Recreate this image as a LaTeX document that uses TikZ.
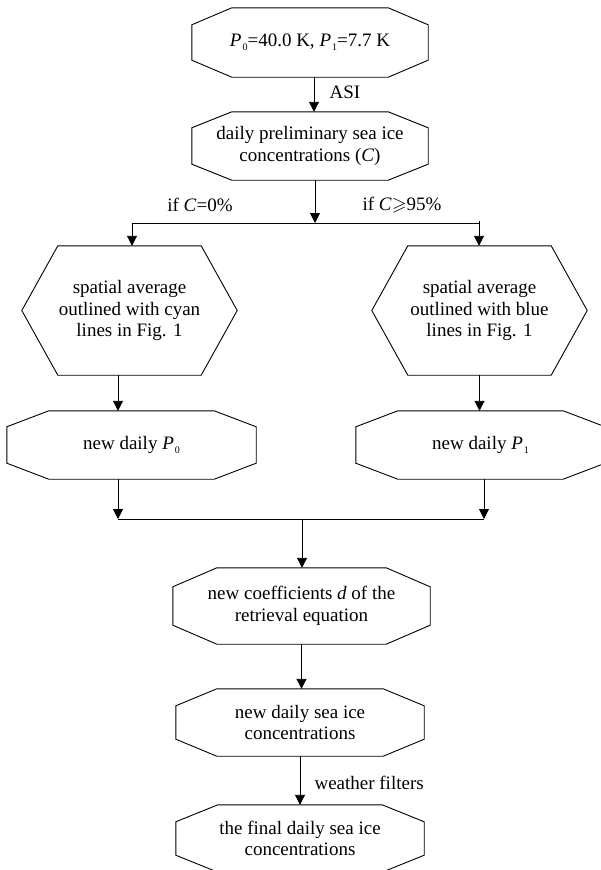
\documentclass[tikz,border=0pt]{standalone}
\usepackage{fontspec}
\setmainfont{Liberation Serif}
\usepackage{amssymb}
\usetikzlibrary{arrows.meta}
\newcommand{\Psub}[1]{\textit{P}\kern1pt\raisebox{-4pt}{\fontsize{10}{10}\selectfont #1}}

\begin{document}
\begin{tikzpicture}[x=1pt,y=-1pt,
  font=\fontsize{19}{21.5}\selectfont,
  box/.style={draw=none,inner sep=0pt,align=center},
  outline/.style={line width=0.9pt},
  line/.style={line width=0.9pt},
  arr/.style={line width=0.9pt,-{Triangle[length=10pt,width=10pt]}}]
\useasboundingbox (0,0) rectangle (600,870);
% boxes
\node[box,minimum width=236pt,minimum height=69pt] (init) at (310,42.5) {\Psub{0}=40.0 K, \Psub{1}=7.7 K};
\node[box,minimum width=236pt,minimum height=68pt] (prelim) at (310,146) {daily preliminary sea ice\\concentrations (\textit{C})};
\node[box,minimum width=215pt,minimum height=129pt] (cyanavg) at (129.5,310.5) {spatial average\\outlined with cyan\\lines in Fig. 1};
\node[box,minimum width=215pt,minimum height=129pt] (blueavg) at (479.5,310.5) {spatial average\\outlined with blue\\lines in Fig. 1};
\node[box,minimum width=249pt,minimum height=68pt] (newPzero) at (131.5,445) {new daily \Psub{0}};
\node[box,minimum width=249pt,minimum height=68pt] (newPone) at (480.5,445) {new daily \Psub{1}};
\node[box,minimum width=257pt,minimum height=76pt] (coeff) at (301.5,606) {new coefficients \textit{d} of the\\retrieval equation};
\node[box,minimum width=248pt,minimum height=67pt] (newsic) at (300,722.5) {new daily sea ice\\concentrations};
\node[box,minimum width=248pt,minimum height=67pt] (final) at (300,838.5) {the final daily sea ice\\concentrations};
% outlines
\foreach \n/\cx/\cy in {init/40/17,prelim/40/16,newPzero/42/16,newPone/42/16,coeff/44/19,newsic/41/17,final/42/17}
  \draw[outline] ([xshift=\cx]\n.north west) -- ([xshift=-\cx]\n.north east) -- ([yshift=-\cy]\n.north east)
    -- ([yshift=\cy]\n.south east) -- ([xshift=-\cx]\n.south east) -- ([xshift=\cx]\n.south west)
    -- ([yshift=\cy]\n.south west) -- ([yshift=-\cy]\n.north west) -- cycle;
\foreach \n in {cyanavg,blueavg}
  \draw[outline] ([xshift=36]\n.north west) -- ([xshift=-36]\n.north east) -- (\n.east)
    -- ([xshift=-36]\n.south east) -- ([xshift=36]\n.south west) -- (\n.west) -- cycle;
% labels
\node[anchor=west] (asi) at (326,92) {ASI};
\node (ifzero) at (200,205) {if \textit{C}=0\%};
\node (ifsat) at (402,205) {if \textit{C}$\geqslant$95\%};
\node[anchor=west] (wfilt) at (311,783) {weather filters};
% connectors
\coordinate (split) at (315,223);
\coordinate (lsplit) at (132,223);
\coordinate (rsplit) at (479,223);
\coordinate (ljoin) at (118,519);
\coordinate (rjoin) at (484,519);
\coordinate (merge) at (302,519);
\draw[arr] ([xshift=4]init.south) -- ([xshift=4]prelim.north);
\draw[arr] (prelim.south -| split) -- (split);
\draw[line] (lsplit) -- (rsplit);
\draw[arr] (lsplit) -- (lsplit |- cyanavg.north);
\draw[arr] ([yshift=2]rsplit) -- (rsplit |- blueavg.north);
\draw[arr] (cyanavg.south -| ljoin) -- (newPzero.north -| ljoin);
\draw[arr] (blueavg.south) -- (blueavg.south |- newPone.north);
\draw[arr] (newPzero.south -| ljoin) -- (ljoin);
\draw[arr] (newPone.south -| rjoin) -- (rjoin);
\draw[line] (ljoin) -- (rjoin);
\draw[arr] (merge) -- (merge |- coeff.north);
\draw[arr] (coeff.south) -- (coeff.south |- newsic.north);
\draw[arr] (newsic.south) -- (newsic.south |- final.north);
\end{tikzpicture}
\end{document}
